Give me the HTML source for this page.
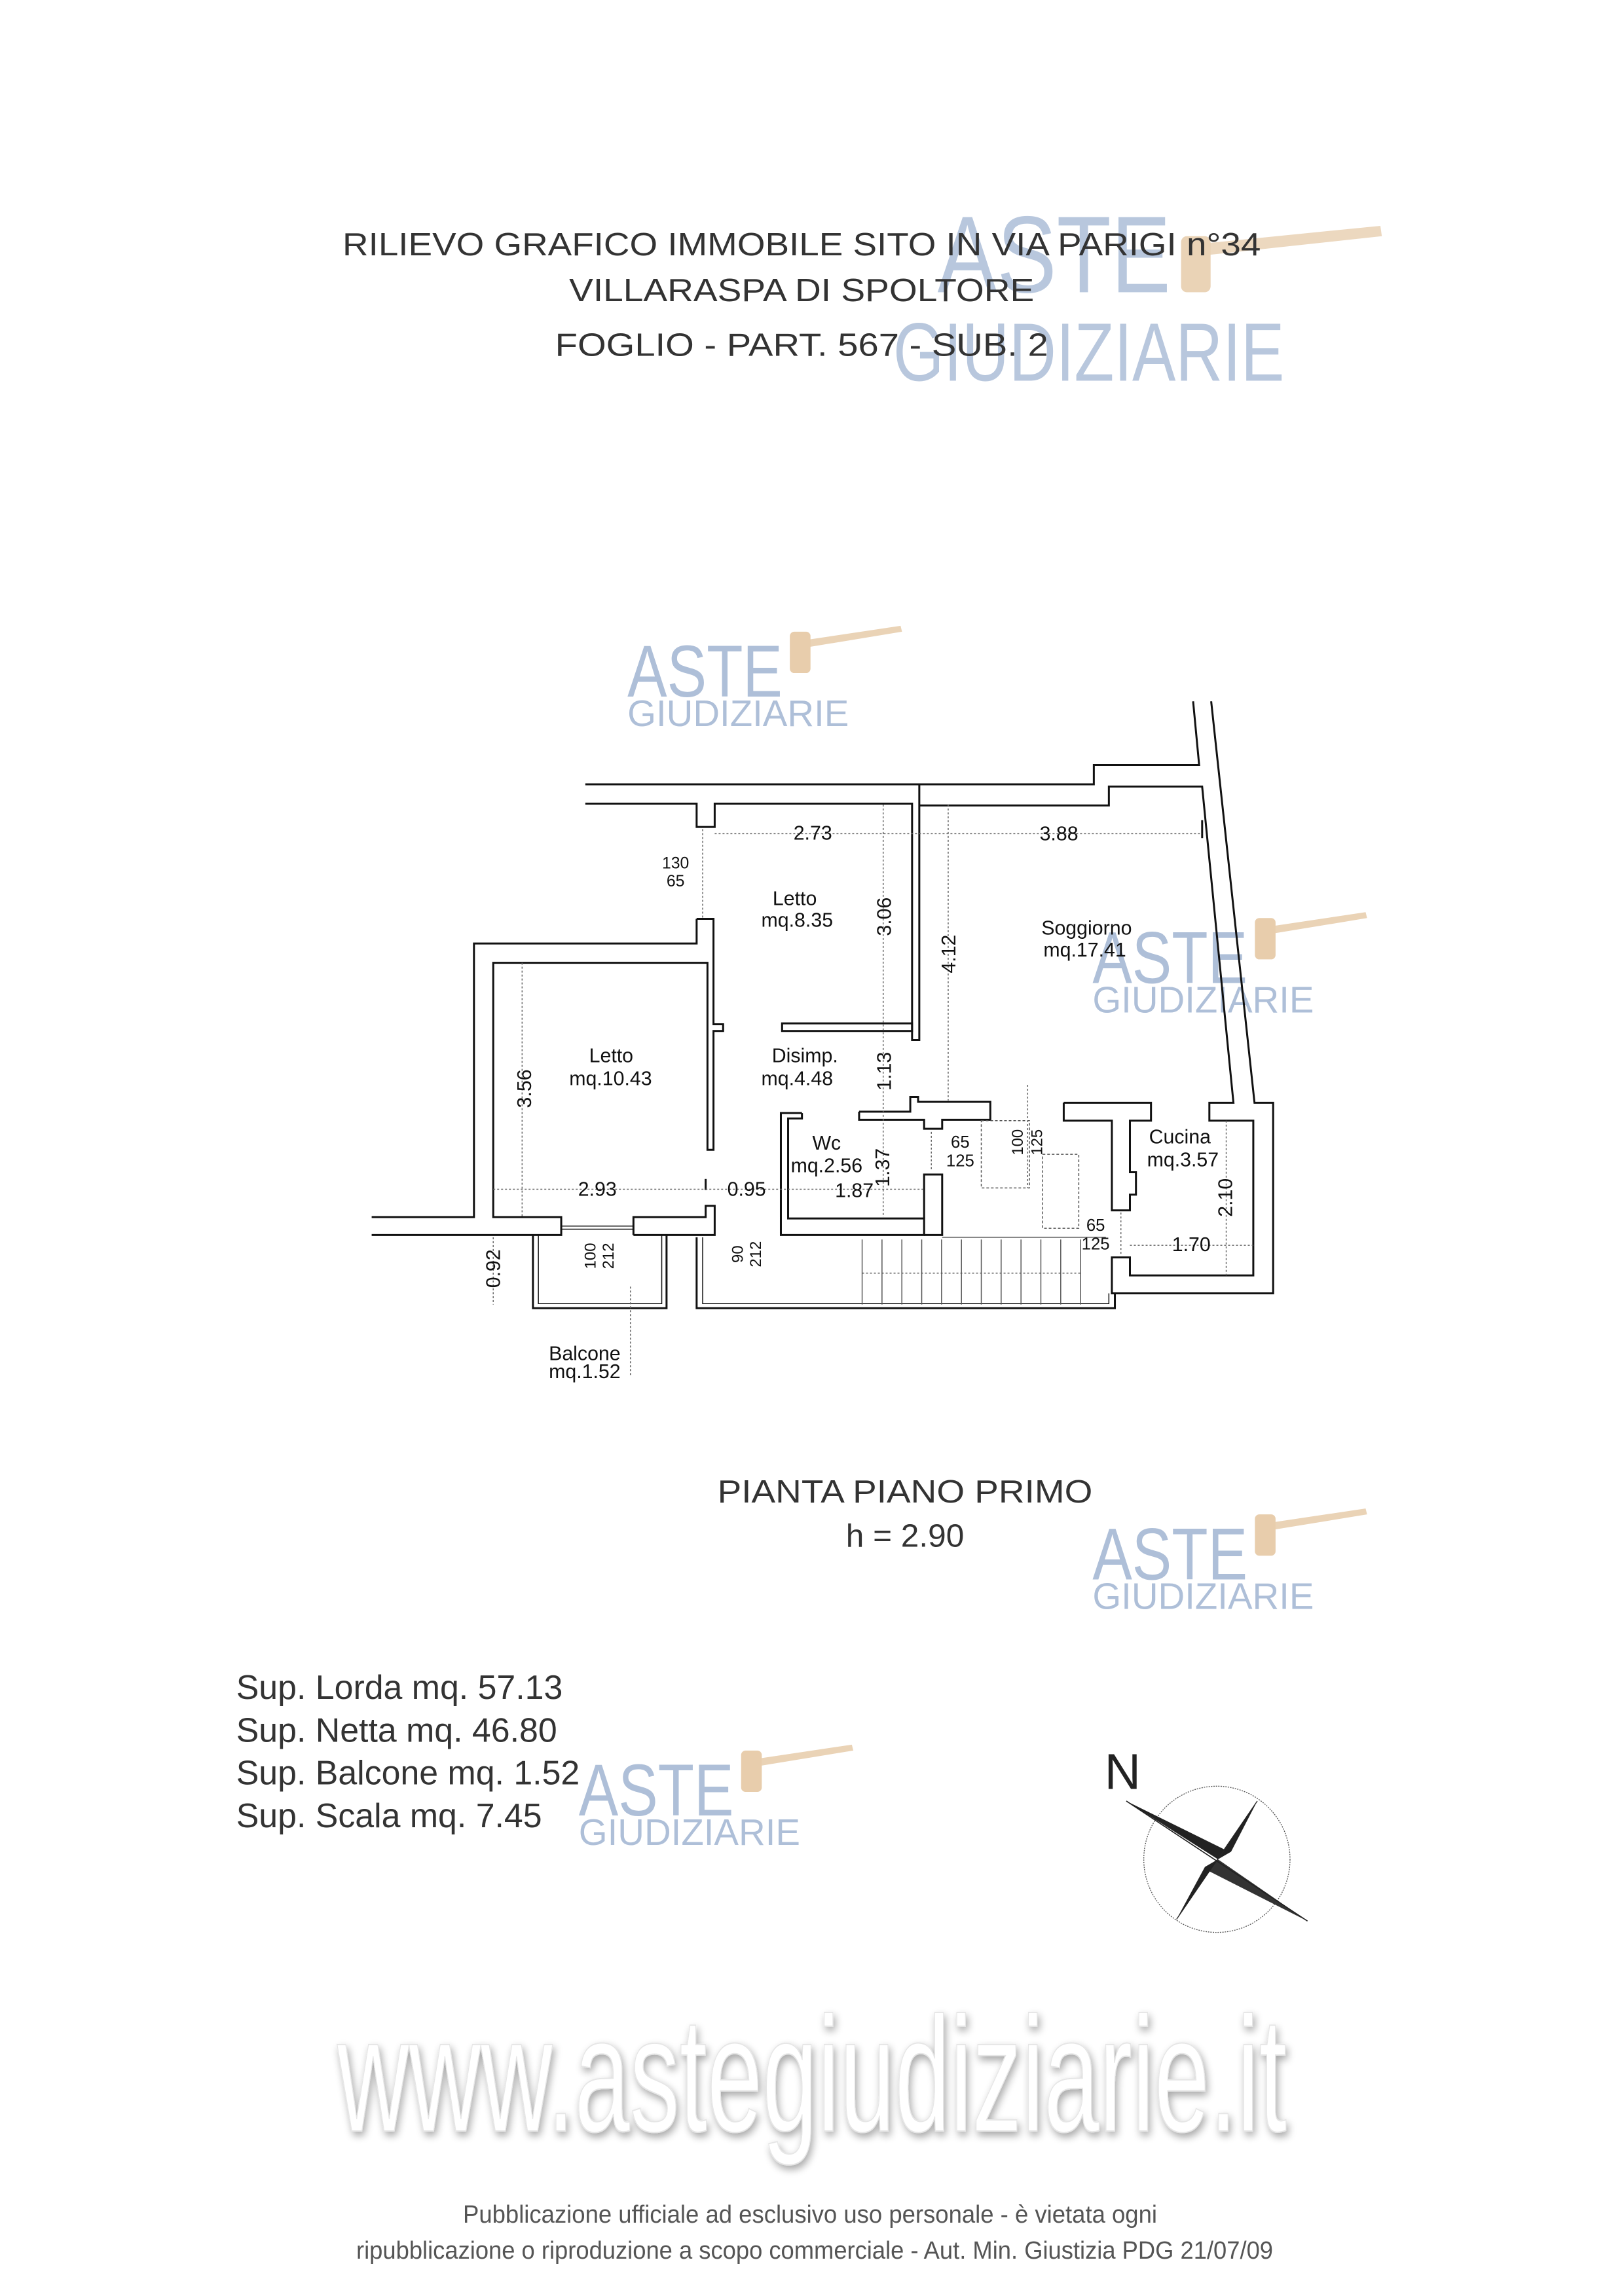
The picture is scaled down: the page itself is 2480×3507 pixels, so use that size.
<!DOCTYPE html>
<html><head><meta charset="utf-8"><style>
html,body{margin:0;padding:0;background:#fff}
svg{display:block}
text{font-family:"Liberation Sans",sans-serif}
</style></head><body>
<svg width="2480" height="3507" viewBox="0 0 2480 3507" xmlns="http://www.w3.org/2000/svg">
<defs>
<filter id="sh" x="-5%" y="-20%" width="110%" height="140%"><feGaussianBlur in="SourceAlpha" stdDeviation="6"/><feOffset dx="3" dy="6"/><feComponentTransfer><feFuncA type="linear" slope="0.35"/></feComponentTransfer><feMerge><feMergeNode/><feMergeNode in="SourceGraphic"/></feMerge></filter>
<g id="wm">
<text x="0" y="52" font-size="50" fill="#aebfd8" textLength="105" lengthAdjust="spacingAndGlyphs">ASTE</text>
<text x="0" y="72" font-size="25" fill="#aebfd8" textLength="150" lengthAdjust="spacingAndGlyphs">GIUDIZIARIE</text>
<path d="M118 14 L185 4 L186 8 L119 19 Z" fill="#ead3b6"/>
<rect x="110" y="8" width="14" height="28" rx="3" fill="#e8cdac"/>
</g>
</defs>
<rect width="2480" height="3507" fill="#fff"/>
<g transform="scale(2.2545)">
<text x="635" y="198" font-size="74" fill="#b8c7dd" textLength="158" lengthAdjust="spacingAndGlyphs">ASTE</text>
<text x="605" y="258" font-size="56" fill="#b8c7dd" textLength="265" lengthAdjust="spacingAndGlyphs">GIUDIZIARIE</text>
<path d="M815 165 L935 153 L936 160 L816 173 Z" fill="#ecd8bf"/>
<rect x="800" y="160" width="20" height="38" rx="4" fill="#ead3b6"/>
<use href="#wm" transform="translate(425,420)"/>
<use href="#wm" transform="translate(740,614)"/>
<use href="#wm" transform="translate(740,1018)"/>
<use href="#wm" transform="translate(392,1178)"/>
<g fill="#333" font-size="22">
<text x="543" y="173" text-anchor="middle" textLength="622" lengthAdjust="spacingAndGlyphs">RILIEVO GRAFICO IMMOBILE SITO IN VIA PARIGI n°34</text>
<text x="543" y="204" text-anchor="middle" textLength="315" lengthAdjust="spacingAndGlyphs">VILLARASPA DI SPOLTORE</text>
<text x="543" y="241" text-anchor="middle" textLength="334" lengthAdjust="spacingAndGlyphs">FOGLIO  - PART. 567 - SUB. 2</text>
<text x="613" y="1018" text-anchor="middle" textLength="254" lengthAdjust="spacingAndGlyphs">PIANTA PIANO PRIMO</text>
<text x="613" y="1048" text-anchor="middle">h = 2.90</text>
</g>
<g fill="#333" font-size="23">
<text x="160" y="1151">Sup. Lorda mq. 57.13</text>
<text x="160" y="1180">Sup. Netta mq. 46.80</text>
<text x="160" y="1209">Sup. Balcone mq. 1.52</text>
<text x="160" y="1238">Sup. Scala mq. 7.45</text>
</g>
</g>
<g transform="translate(1660,2645) scale(0.3333)">
<text x="80" y="262" font-size="230" fill="#222">N</text>
<circle cx="595" cy="585" r="335" fill="none" stroke="#555" stroke-width="4" stroke-dasharray="6 5"/>
<path d="M180 318 L630 540 L600 585 Z" fill="#222"/>
<path d="M1010 868 L560 640 L600 585 Z" fill="#333"/>
<path d="M780 318 L660 550 L600 585 Z" fill="#222"/>
<path d="M410 860 L540 620 L600 585 Z" fill="#222"/>
<line x1="180" y1="318" x2="1010" y2="868" stroke="#222" stroke-width="5"/>
<line x1="780" y1="318" x2="410" y2="860" stroke="#222" stroke-width="4"/>
</g>
<g transform="translate(540,1061) scale(0.919,0.685)" fill="none" stroke="#111" stroke-width="3">
<g>
<polyline vector-effect="non-scaling-stroke" points="385,200 940,200 940,770 928,770 928,243 600,243 600,295 570,295 570,243 385,243"/>
<polyline vector-effect="non-scaling-stroke" points="940,200 1230,200 1230,157 1405,157 1395,15"/>
<polyline vector-effect="non-scaling-stroke" points="940,247 1255,247 1255,205 1410,205 1462,910 1422,910 1422,950 1495,950 1495,1295 1290,1295 1290,1255 1260,1255 1260,1335 1528,1335 1528,910 1497,910 1425,15"/>
<line vector-effect="non-scaling-stroke" x1="1410" y1="280" x2="1410" y2="320"/>
<polyline vector-effect="non-scaling-stroke" points="570,500 570,555 200,555 200,1165 30,1165"/>
<polyline vector-effect="non-scaling-stroke" points="30,1205 345,1205 345,1165 232,1165 232,598 588,598 588,1015 598,1015 598,750 614,750 614,735 598,735 598,500 570,500"/>
<polyline vector-effect="non-scaling-stroke" points="465,1205 600,1205 600,1140 585,1140 585,1165 465,1165 465,1205"/>
<line vector-effect="non-scaling-stroke" stroke-width="1.5" x1="345" y1="1185" x2="465" y2="1185"/>
<line vector-effect="non-scaling-stroke" stroke-width="1.5" x1="345" y1="1192" x2="465" y2="1192"/>
<line vector-effect="non-scaling-stroke" x1="585" y1="1080" x2="585" y2="1105"/>
<polyline vector-effect="non-scaling-stroke" points="298,1205 298,1368 520,1368 520,1205"/>
<polyline vector-effect="non-scaling-stroke" stroke-width="1.5" points="307,1205 307,1358 512,1358 512,1205"/>
<polyline vector-effect="non-scaling-stroke" points="570,1210 570,1368 1265,1368 1265,1335"/>
<polyline vector-effect="non-scaling-stroke" stroke-width="1.5" points="580,1210 580,1358 1255,1358 1255,1335"/>
<rect vector-effect="non-scaling-stroke" x="712" y="733" width="216" height="17"/>
<polyline vector-effect="non-scaling-stroke" points="745,933 710,933 710,1205 948,1205 948,1168 722,1168 722,945 745,945 745,933"/>
<polyline vector-effect="non-scaling-stroke" points="948,1168 948,1070 978,1070 978,1205 948,1205"/>
<polyline vector-effect="non-scaling-stroke" points="840,930 840,948 948,948 948,968 978,968 978,948 1058,948 1058,908 938,908 938,897 925,897 925,930 840,930"/>
<polyline vector-effect="non-scaling-stroke" points="1180,910 1325,910 1325,950 1290,950 1290,1065 1300,1065 1300,1115 1290,1115 1290,1150 1260,1150 1260,950 1180,950 1180,910"/>
</g>
<g stroke-width="1.5" stroke="#555">
<line vector-effect="non-scaling-stroke" x1="845" y1="1215" x2="845" y2="1360"/><line vector-effect="non-scaling-stroke" x1="878" y1="1215" x2="878" y2="1360"/>
<line vector-effect="non-scaling-stroke" x1="911" y1="1215" x2="911" y2="1360"/><line vector-effect="non-scaling-stroke" x1="944" y1="1215" x2="944" y2="1360"/>
<line vector-effect="non-scaling-stroke" x1="977" y1="1215" x2="977" y2="1360"/><line vector-effect="non-scaling-stroke" x1="1010" y1="1215" x2="1010" y2="1360"/>
<line vector-effect="non-scaling-stroke" x1="1043" y1="1215" x2="1043" y2="1360"/><line vector-effect="non-scaling-stroke" x1="1076" y1="1215" x2="1076" y2="1360"/>
<line vector-effect="non-scaling-stroke" x1="1109" y1="1215" x2="1109" y2="1360"/><line vector-effect="non-scaling-stroke" x1="1142" y1="1215" x2="1142" y2="1360"/>
<line vector-effect="non-scaling-stroke" x1="1175" y1="1215" x2="1175" y2="1360"/><line vector-effect="non-scaling-stroke" x1="1208" y1="1215" x2="1208" y2="1360"/>
<line vector-effect="non-scaling-stroke" x1="845" y1="1290" x2="1208" y2="1290" stroke-dasharray="3 3"/>
<line vector-effect="non-scaling-stroke" x1="978" y1="1210" x2="1250" y2="1210"/>
<rect vector-effect="non-scaling-stroke" x="1043" y="950" width="80" height="150" stroke-dasharray="4 3"/>
<rect vector-effect="non-scaling-stroke" x="1145" y="1025" width="60" height="165" stroke-dasharray="4 3"/>
</g>
<g stroke="#666" stroke-width="1.5" stroke-dasharray="3 3">
<line vector-effect="non-scaling-stroke" x1="600" y1="310" x2="1410" y2="310"/>
<line vector-effect="non-scaling-stroke" x1="880" y1="245" x2="880" y2="1165"/>
<line vector-effect="non-scaling-stroke" x1="988" y1="245" x2="988" y2="905"/>
<line vector-effect="non-scaling-stroke" x1="280" y1="598" x2="280" y2="1165"/>
<line vector-effect="non-scaling-stroke" x1="232" y1="1103" x2="948" y2="1103"/>
<line vector-effect="non-scaling-stroke" x1="232" y1="1210" x2="232" y2="1360"/>
<line vector-effect="non-scaling-stroke" x1="460" y1="1320" x2="460" y2="1520"/>
<line vector-effect="non-scaling-stroke" x1="1290" y1="1228" x2="1495" y2="1228"/>
<line vector-effect="non-scaling-stroke" x1="1450" y1="950" x2="1450" y2="1295"/>
<line vector-effect="non-scaling-stroke" x1="580" y1="300" x2="580" y2="500"/>
<line vector-effect="non-scaling-stroke" x1="960" y1="975" x2="960" y2="1060"/>
<line vector-effect="non-scaling-stroke" x1="1275" y1="1155" x2="1275" y2="1250"/>
<line vector-effect="non-scaling-stroke" x1="1120" y1="870" x2="1120" y2="1100"/>
</g>
</g>
<g transform="translate(540,1061) scale(0.919)" fill="#111" font-size="33">
<text x="763" y="241" text-anchor="middle">2.73</text>
<text x="1172" y="242" text-anchor="middle">3.88</text>
<text x="535" y="289" text-anchor="middle" font-size="27">130</text>
<text x="535" y="319" text-anchor="middle" font-size="27">65</text>
<text x="733" y="350" text-anchor="middle">Letto</text>
<text x="737" y="386" text-anchor="middle">mq.8.35</text>
<text x="1218" y="399" text-anchor="middle">Soggiorno</text>
<text x="1215" y="435" text-anchor="middle">mq.17.41</text>
<text x="428" y="611" text-anchor="middle">Letto</text>
<text x="427" y="649" text-anchor="middle">mq.10.43</text>
<text x="750" y="611" text-anchor="middle">Disimp.</text>
<text x="737" y="649" text-anchor="middle">mq.4.48</text>
<text x="786" y="756" text-anchor="middle">Wc</text>
<text x="786" y="794" text-anchor="middle">mq.2.56</text>
<text x="1373" y="746" text-anchor="middle">Cucina</text>
<text x="1378" y="784" text-anchor="middle">mq.3.57</text>
<text x="405" y="833" text-anchor="middle">2.93</text>
<text x="653" y="833" text-anchor="middle">0.95</text>
<text x="832" y="835" text-anchor="middle">1.87</text>
<text x="1392" y="925" text-anchor="middle">1.70</text>
<text x="1008" y="753" text-anchor="middle" font-size="28">65</text>
<text x="1008" y="784" text-anchor="middle" font-size="28">125</text>
<text x="1233" y="891" text-anchor="middle" font-size="28">65</text>
<text x="1233" y="922" text-anchor="middle" font-size="28">125</text>
<text x="384" y="1106" text-anchor="middle">Balcone</text>
<text x="384" y="1136" text-anchor="middle">mq.1.52</text>
<text transform="translate(893,369) rotate(-90)" text-anchor="middle">3.06</text>
<text transform="translate(1000,431) rotate(-90)" text-anchor="middle">4.12</text>
<text transform="translate(893,626) rotate(-90)" text-anchor="middle">1.13</text>
<text transform="translate(890,786) rotate(-90)" text-anchor="middle">1.37</text>
<text transform="translate(295,655) rotate(-90)" text-anchor="middle">3.56</text>
<text transform="translate(243,954) rotate(-90)" text-anchor="middle">0.92</text>
<text transform="translate(1460,836) rotate(-90)" text-anchor="middle">2.10</text>
<text transform="translate(1112,744) rotate(-90)" text-anchor="middle" font-size="26">100</text>
<text transform="translate(1144,744) rotate(-90)" text-anchor="middle" font-size="26">125</text>
<text transform="translate(402,933) rotate(-90)" text-anchor="middle" font-size="26">100</text>
<text transform="translate(432,933) rotate(-90)" text-anchor="middle" font-size="26">212</text>
<text transform="translate(647,930) rotate(-90)" text-anchor="middle" font-size="26">90</text>
<text transform="translate(677,930) rotate(-90)" text-anchor="middle" font-size="26">212</text>
</g>
<text x="1240" y="3255" text-anchor="middle" font-size="250" fill="#fff" stroke="#e6e6e6" stroke-width="2" filter="url(#sh)" textLength="1450" lengthAdjust="spacingAndGlyphs">www.astegiudiziarie.it</text>
<g fill="#555" font-size="38">
<text x="1237" y="3395" text-anchor="middle" textLength="1060" lengthAdjust="spacingAndGlyphs">Pubblicazione ufficiale ad esclusivo uso personale - è vietata ogni</text>
<text x="1244" y="3450" text-anchor="middle" textLength="1400" lengthAdjust="spacingAndGlyphs">ripubblicazione o riproduzione a scopo commerciale - Aut. Min. Giustizia PDG 21/07/09</text>
</g>
</svg>
</body></html>
